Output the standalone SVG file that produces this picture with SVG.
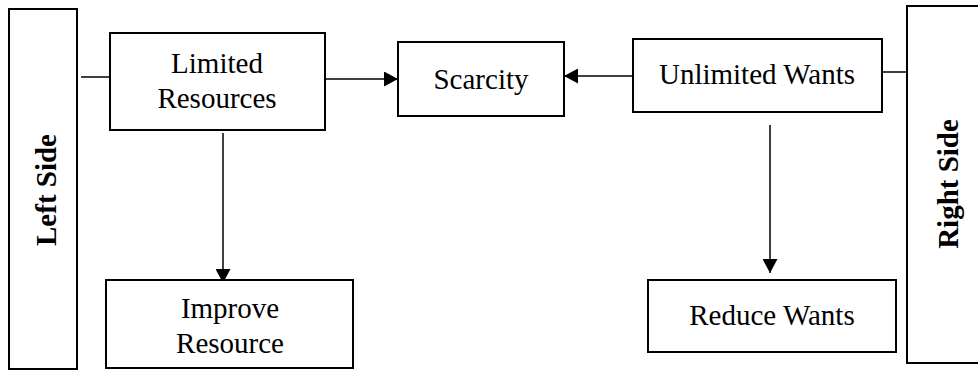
<svg xmlns="http://www.w3.org/2000/svg" width="978" height="370" viewBox="0 0 978 370">
<style>
.box{fill:#fff;stroke:#000;stroke-width:2}
.t{font-family:"Liberation Serif","Times New Roman",serif;font-size:29px;fill:#000;text-anchor:middle}
.b{font-weight:bold}
.c{stroke:#000;stroke-width:1.5;fill:none}
</style>
<defs>
<marker id="ah" markerWidth="14" markerHeight="15" refX="14" refY="7.5" orient="auto" markerUnits="userSpaceOnUse">
<path d="M0,0 L14,7.5 L0,15 Z" fill="#000"/>
</marker>
</defs>
<rect width="978" height="370" fill="#fff"/>
<g id="connectors">
<line class="c" x1="81" y1="77" x2="110" y2="77"/>
<line class="c" x1="325" y1="79" x2="398" y2="79" marker-end="url(#ah)"/>
<line class="c" x1="633" y1="76" x2="564" y2="76" marker-end="url(#ah)"/>
<line class="c" x1="882" y1="72" x2="907" y2="72"/>
<line class="c" x1="223" y1="133" x2="223" y2="283" marker-end="url(#ah)"/>
<line class="c" x1="770" y1="125" x2="770" y2="273" marker-end="url(#ah)"/>
</g>
<g id="left-side">
<rect class="box" x="9" y="9" width="68" height="360"/>
<text class="t b" transform="translate(56,190) rotate(-90)">Left Side</text>
</g>
<g id="limited-resources">
<rect class="box" x="110" y="33" width="215" height="97"/>
<text class="t" x="217" y="73">Limited</text>
<text class="t" x="217" y="108">Resources</text>
</g>
<g id="scarcity">
<rect class="box" x="398" y="42" width="166" height="74"/>
<text class="t" x="481" y="89">Scarcity</text>
</g>
<g id="unlimited-wants">
<rect class="box" x="633" y="39" width="249" height="73"/>
<text class="t" x="757" y="84">Unlimited Wants</text>
</g>
<g id="right-side">
<rect class="box" x="907" y="6" width="80" height="357"/>
<text class="t b" transform="translate(958,184) rotate(-90)">Right Side</text>
</g>
<g id="improve-resource">
<rect class="box" x="106" y="280" width="247" height="88"/>
<text class="t" x="230" y="318">Improve</text>
<text class="t" x="230" y="353">Resource</text>
</g>
<g id="reduce-wants">
<rect class="box" x="648" y="280" width="248" height="72"/>
<text class="t" x="772" y="325">Reduce Wants</text>
</g>
</svg>
